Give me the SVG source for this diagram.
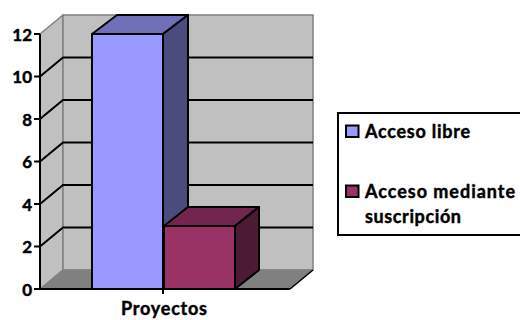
<svg xmlns="http://www.w3.org/2000/svg" width="520" height="320" viewBox="0 0 520 320">
<style>
.wall{fill:#c0c0c0;stroke:#808080;stroke-width:1.5}
.floor{fill:#808080;stroke:#808080;stroke-width:1}
.grid{stroke:#000;stroke-width:2;fill:none}
.bar{stroke:#000;stroke-width:2;stroke-linejoin:round}
.lbl{font-family:Lato,"Liberation Sans",Arial,sans-serif;font-weight:700;font-size:17px;fill:#000;stroke:#000;stroke-width:0.45}
.big{font-size:18px}
</style>
<rect width="520" height="320" fill="#fff"/>
<g id="walls">
<polygon class="wall" points="40,34 63,15 63,270 40,289"/>
<polygon class="wall" points="63,15 313,15 313,270 63,270"/>
<polygon class="floor" points="40,289 290,289 313,270 63,270"/>
</g>
<g id="gridlines">
<path class="grid" d="M40,76.5 L63,57.5 H313 M40,119 L63,100 H313 M40,161.5 L63,142.5 H313 M40,204 L63,185 H313 M40,246.5 L63,227.5 H313"/>
<path d="M290,289 L313,270" stroke="#000" stroke-width="1.5"/>
</g>
<g id="axis">
<path class="grid" d="M40,34 V289 H290 M34,34 H40 M34,76.5 H40 M34,119 H40 M34,161.5 H40 M34,204 H40 M34,246.5 H40 M34,289 H40 M163,289 V294"/>
<g class="lbl" text-anchor="end">
<text x="32" y="40.5">12</text>
<text x="32" y="83">10</text>
<text x="32" y="125.5">8</text>
<text x="32" y="168">6</text>
<text x="32" y="210.5">4</text>
<text x="32" y="253">2</text>
<text x="32" y="295.5">0</text>
</g>
<text class="lbl big" x="121" y="315" textLength="86">Proyectos</text>
</g>
<g id="bar-acceso-libre">
<polygon class="bar" fill="#9999ff" points="92,34 163,34 163,289 92,289"/>
<polygon class="bar" fill="#7070b8" points="92,34 117,15 188,15 163,34"/>
<polygon class="bar" fill="#4b4b7e" points="163,34 188,15 188,270 163,289"/>
</g>
<g id="bar-suscripcion">
<polygon class="bar" fill="#993366" points="164,226 235,226 235,289 164,289"/>
<polygon class="bar" fill="#73264d" points="164,226 188,207 259,207 235,226"/>
<polygon class="bar" fill="#4d1a33" points="235,226 259,207 259,270 235,289"/>
</g>
<g id="legend">
<rect x="338" y="113" width="186" height="122" fill="#fff" stroke="#000" stroke-width="2"/>
<rect x="346" y="125.5" width="12.5" height="11.5" fill="#9999ff" stroke="#000" stroke-width="2"/>
<text class="lbl big" x="365" y="137.5" textLength="105">Acceso libre</text>
<rect x="346" y="185.5" width="12.5" height="11.5" fill="#993366" stroke="#000" stroke-width="2"/>
<text class="lbl big" x="365" y="197.5" textLength="150">Acceso mediante</text>
<text class="lbl big" x="365" y="222.5" textLength="96">suscripción</text>
</g>
</svg>
